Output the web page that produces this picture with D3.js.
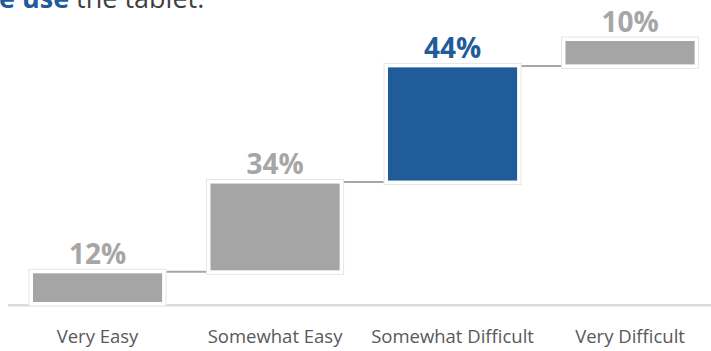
<!DOCTYPE html>
<html>
<head>
<meta charset="utf-8">
<script src="https://cdn.jsdelivr.net/npm/d3@7"></script>
<style>
  body { margin: 0; background: #fff; }
  svg { display: block; font-family: "Open Sans", "Noto Sans", sans-serif; }
</style>
</head>
<body>
<div id="chart"></div>
<script>
var width = 711;
var height = 351;

// data
var categories = ["Very Easy", "Somewhat Easy", "Somewhat Difficult", "Very Difficult"];
var values = [12, 34, 44, 10];
var highlight = ["Somewhat Difficult"];
var titleBold = "e use";
var titleRest = " the tablet.";

var grey = "#a5a5a5";
var blue = "#1f5c99";

var svg = d3.select("#chart")
  .append("svg")
  .attr("width", width)
  .attr("height", height);

// cumulative start / end for the waterfall
var acc = 0;
var steps = values.map(function(v, i) {
  var d = { cat: categories[i], value: v, start: acc, end: acc + v };
  acc += v;
  return d;
});

var x = d3.scaleBand()
  .domain(categories)
  .range([8.8, 718.8])
  .paddingInner(0.25)
  .paddingOuter(0.125);

var y = d3.scaleLinear()
  .domain([0, 100])
  .range([303.5, 39.5]);

// title, cut off at the top like the source slide
var title = svg.append("text")
  .attr("x", -1)
  .attr("y", 8)
  .attr("font-size", "27px");
title.append("tspan")
  .attr("fill", blue)
  .attr("font-weight", "bold")
  .text(titleBold);
title.append("tspan")
  .attr("fill", "#404040")
  .attr("xml:space", "preserve")
  .text(titleRest);

// base line
svg.append("line")
  .attr("x1", 8)
  .attr("x2", width)
  .attr("y1", 305.3)
  .attr("y2", 305.3)
  .attr("stroke", "#dcdcdc")
  .attr("stroke-width", 2.5);

// connectors
svg.append("g")
  .selectAll("line")
  .data(steps.slice(0, -1))
  .enter()
  .append("line")
  .attr("x1", function(d) { return x(d.cat) + x.bandwidth() + 2; })
  .attr("x2", function(d, i) { return x(categories[i + 1]) - 2; })
  .attr("y1", function(d) { return y(d.end); })
  .attr("y2", function(d) { return y(d.end); })
  .attr("stroke", "#a6a6a6")
  .attr("stroke-width", 2);

var bars = svg.append("g")
  .selectAll("g")
  .data(steps)
  .enter()
  .append("g");

// white frame with a faint outline
bars.append("rect")
  .attr("x", function(d) { return x(d.cat) - 2; })
  .attr("y", function(d) { return y(d.end) - 2.5; })
  .attr("width", x.bandwidth() + 4)
  .attr("height", function(d) { return y(d.start) - y(d.end) + 5; })
  .attr("fill", "#fff")
  .attr("stroke", "#e6e6e6")
  .attr("stroke-width", 1);

bars.append("rect")
  .attr("x", function(d) { return x(d.cat) + 2; })
  .attr("y", function(d) { return y(d.end) + 1.5; })
  .attr("width", x.bandwidth() - 4)
  .attr("height", function(d) { return y(d.start) - y(d.end) - 3; })
  .attr("fill", function(d) { return highlight.indexOf(d.cat) >= 0 ? blue : grey; });

// value labels
bars.append("text")
  .attr("x", function(d) { return x(d.cat) + x.bandwidth() / 2; })
  .attr("y", function(d) { return y(d.end) - 8; })
  .attr("text-anchor", "middle")
  .attr("font-size", "28px")
  .attr("font-weight", "bold")
  .attr("fill", function(d) { return highlight.indexOf(d.cat) >= 0 ? blue : "#a6a6a6"; })
  .text(function(d) { return d.value + "%"; });

// category labels
svg.append("g")
  .selectAll("text")
  .data(categories)
  .enter()
  .append("text")
  .attr("x", function(d) { return x(d) + x.bandwidth() / 2; })
  .attr("y", 342.5)
  .attr("text-anchor", "middle")
  .attr("font-size", "18.5px")
  .attr("fill", "#595959")
  .text(function(d) { return d; });
</script>
</body>
</html>
